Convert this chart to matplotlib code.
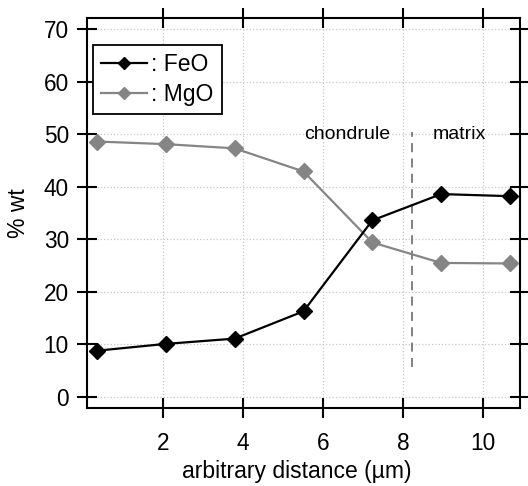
import matplotlib
matplotlib.use('Agg')
from matplotlib import pyplot as plt

distance = [0.35, 2.07, 3.79, 5.51, 7.23, 8.95, 10.67]
feo = [8.8, 10.1, 11.1, 16.3, 33.6, 38.6, 38.2]
mgo = [48.6, 48.1, 47.3, 42.9, 29.4, 25.5, 25.4]
boundary_x = 8.22
boundary_y = [5.7, 50.5]

plt.rcParams['font.family'] = ['Liberation Sans', 'DejaVu Sans']
plt.rcParams['font.size'] = 16

fig = plt.figure(figsize=(5.28, 4.86), dpi=100)
ax = fig.add_axes([87 / 528, 1 - 408 / 486, 433 / 528, 390 / 486])

ax.plot(distance, feo, color='black', lw=1.6, marker='D', ms=8,
        label=': FeO', zorder=4)
ax.plot(distance, mgo, color='#858585', lw=1.6, marker='D', ms=8,
        label=': MgO', zorder=3)
ax.plot([boundary_x, boundary_x], boundary_y, color='#777777', lw=1.3,
        ls=(0, (5, 3.5)), zorder=2)

ax.text(6.6, 50, 'chondrule', ha='center', va='center', fontsize=14)
ax.text(9.4, 50, 'matrix', ha='center', va='center', fontsize=14)

ax.set_xlim(0.1, 10.92)
ax.set_ylim(-2.1, 72.1)
ax.set_xticks([2, 4, 6, 8, 10])
ax.set_yticks(range(0, 71, 10))
ax.grid(True, color='#c8c8c8', ls=':', lw=0.9)
ax.set_axisbelow(True)
for s in ax.spines.values():
    s.set_linewidth(1.5)
ax.tick_params(direction='inout', length=14, width=1.5, top=True, right=True,
               labeltop=False, labelright=False, labelsize=16.3, pad=6)
ax.tick_params(axis='x', pad=10)

ax.set_xlabel('arbitrary distance (µm)', fontsize=16.5)
ax.xaxis.set_label_coords(0.484, -0.133)
ax.xaxis.label.set_va('top')
ax.set_ylabel('% wt', fontsize=16.5, labelpad=10)

leg = ax.legend(loc='upper left', bbox_to_anchor=(6 / 433, 1 - 27 / 390),
                fancybox=False, edgecolor='black', framealpha=1, fontsize=16.5,
                handlelength=2.0, handletextpad=0.2, borderpad=0.35,
                labelspacing=0.3, borderaxespad=0.0, markerscale=0.75)
leg.get_frame().set_linewidth(1.3)

fig.savefig('out.png', dpi=100)
